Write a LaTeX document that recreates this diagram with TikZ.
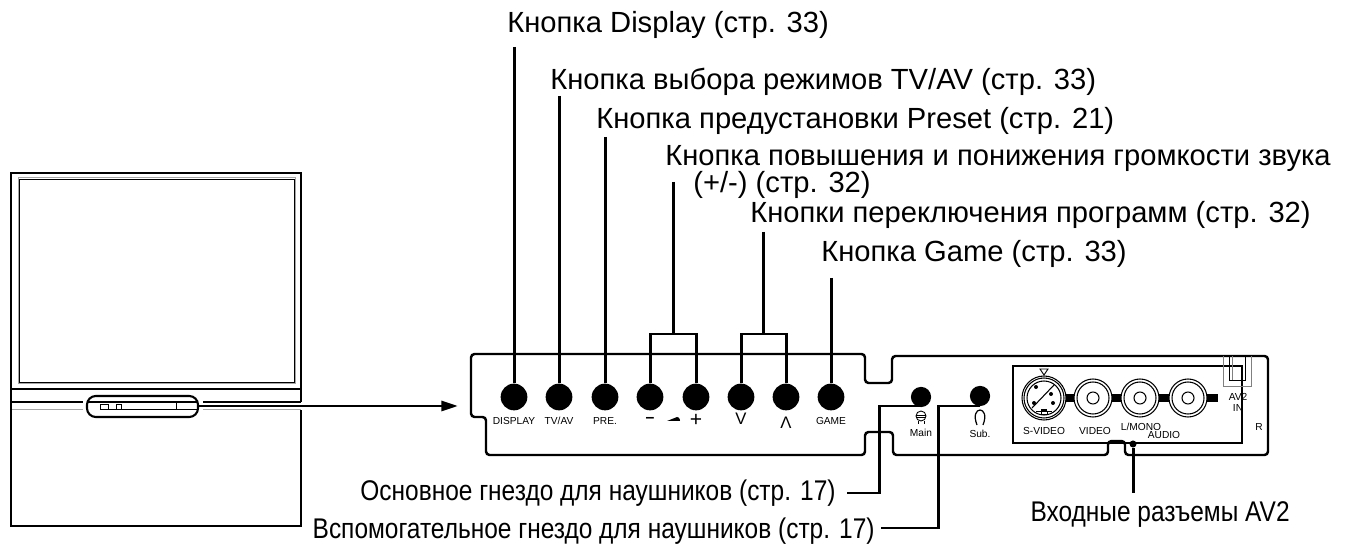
\documentclass[tikz,border=0pt]{standalone}
\usepackage{fontspec}
\setmainfont{Liberation Sans}
\newfontfamily\narrowfont[FakeStretch=0.86]{Liberation Sans}
\usetikzlibrary{arrows.meta}
\tikzset{
  leader/.style={line width=1.7pt},
  outline/.style={line width=1.4pt,rounded corners=2pt},
  caption/.style={anchor=base west,inner sep=0pt,font=\fontsize{16.6}{18}\selectfont},
  narrowcaption/.style={anchor=base east,inner sep=0pt,font=\fontsize{16.2}{18}\selectfont\narrowfont},
  panellabel/.style={inner sep=0pt,font=\fontsize{5.8}{6}\selectfont},
  button/.style={circle,fill=black,inner sep=0pt,minimum size=15.2pt},
  jack/.style={circle,fill=black,inner sep=0pt,minimum size=11.5pt},
}
\begin{document}
\begin{tikzpicture}[x=0.02cm,y=-0.02cm]
  \useasboundingbox (0,0) rectangle (1355,546);

  % television
  \draw[line width=1.5pt] (301,402) -- (301,173) -- (11,173) -- (11,526) -- (301,526) -- (301,410);
  \draw[gray!70,line width=0.5pt] (18,177) rectangle (295,383);
  \draw[line width=0.4pt] (19,179) rectangle (294,382);
  \draw[line width=0.7pt] (12,389) -- (301,389);
  \draw[line width=1.2pt] (12,402) -- (83,402) (203,402) -- (301,402);
  \draw[gray!70,line width=0.5pt] (12,409) -- (83,409) (203,409) -- (301,409);
  \draw[line width=1pt] (87,402) -- (198,402);
  \draw[line width=0.5pt] (100,409) -- (198,409) (176,403) -- (176,409);
  \draw[line width=0.4pt] (100,404) rectangle (108,409) (116,404) rectangle (121,409);
  \draw[line width=1.2pt,rounded corners=5pt] (87,396) rectangle (198,417);
  \coordinate (tvend) at (198,406);
  \coordinate (panelarrow) at (458,406);
  \draw[leader,-{Triangle[length=9.5pt,width=5.7pt]}] (tvend) -- (panelarrow);

  % panel
  \draw[outline] (471,354) -- (865,354) -- (865,383) -- (892,383) -- (892,356) -- (1268,356)
    -- (1268,455) -- (1125,455) -- (1125,441) -- (1108,441) -- (1108,455) -- (893,455)
    -- (893,432) -- (865,432) -- (865,455) -- (486,455) -- (486,417) -- (471,417) -- cycle;
  \draw[line width=0.7pt] (1013,366) rectangle (1242,443);
  \draw[gray,line width=0.5pt] (1223,356) -- (1223,386) -- (1251,386) -- (1251,356);
  \draw[line width=0.5pt] (1229,356) -- (1229,380) -- (1245,380) -- (1245,356);
  \draw[gray,line width=0.5pt] (1232,356) -- (1232,380);

  % buttons
  \foreach \name/\x/\lab in {display/514/DISPLAY,tvav/559/TV\slash AV,pre/605/PRE.,minus/650/,plus/696/,down/741/,up/786/,game/831/GAME}
    {\node[button] (\name) at (\x,397) {};
     \node[panellabel] (\name lab) at (\x,421) {\lab};}
  \node[inner sep=0pt,font=\fontsize{9}{10}\selectfont\bfseries] (minussign) at (650,420) {–};
  \node[inner sep=0pt,font=\fontsize{12}{12}\selectfont] (plussign) at (696,420) {+};
  \node[inner sep=0pt,font=\fontsize{9.5}{10}\selectfont] (downsign) at (741,419) {V};
  \node[inner sep=0pt,font=\fontsize{9.5}{10}\selectfont] (upsign) at (786,423) {Λ};
  \fill (667,421) -- (677,417) .. controls (680,417) and (680,421) .. (680,421) -- cycle;

  % jacks
  \node[jack] (mainjack) at (921,397) {};
  \node[jack] (subjack) at (980,396) {};
  \node[panellabel] (mainlab) at (921,433) {Main};
  \node[panellabel] (sublab) at (980,434) {Sub.};
  \draw[line width=0.5pt] (921,416) circle (5);
  \draw[line width=0.5pt] (916,417) -- (926,417) (916,415) -- (926,415) (918,421) -- (918,424) (924,421) -- (924,424);
  \draw[line width=0.7pt] (977,425) .. controls (969,405) and (991,405) .. (983,425);

  % AV2 sockets
  \foreach \x in {1044,1093,1140,1188}
    \draw[line width=5pt] (\x+18,398) -- (\x+30,398);
  \foreach \x in {1093,1140,1188}
    {\draw[fill=white,line width=0.6pt] (\x,398) circle (19);
     \draw[line width=0.6pt] (\x,398) circle (16);
     \draw[line width=0.6pt] (\x,398) circle (6);}
  \draw[fill=white,line width=0.6pt] (1044,398) circle (22);
  \draw[line width=0.6pt] (1044,398) circle (20) (1044,398) circle (17);
  \draw[line width=0.6pt] (1032,408) -- (1054,385);
  \foreach \x/\y in {1036/387,1051/394,1034/403,1053/403}
    \fill (\x,\y) circle (2);
  \fill (1041,409) rectangle (1047,412);
  \draw[line width=0.5pt] (1036,411) -- (1041,411) -- (1041,414) -- (1047,414) -- (1047,411) -- (1052,411);
  \draw[line width=0.5pt] (1040,369) -- (1048,369) -- (1044,375) -- cycle;
  \node[panellabel] (svideolab) at (1044,431) {S-VIDEO};
  \node[panellabel] (videolab) at (1095,431) {VIDEO};
  \node[panellabel] (lmonolab) at (1141,427) {L/MONO};
  \node[panellabel] (audiolab) at (1164,435) {AUDIO};
  \node[panellabel] (avlab) at (1238,397) {AV2};
  \node[panellabel] (inlab) at (1238,408) {IN};
  \node[panellabel] (rlab) at (1259,427) {R};
  \node[circle,fill=black,inner sep=0pt,minimum size=4pt] (avdot) at (1133,444) {};

  % captions
  \node[caption] (displaytext) at (507,33) {Кнопка Display (стр. 33)};
  \node[caption] (tvavtext) at (550,90) {Кнопка выбора режимов TV/AV (стр. 33)};
  \node[caption] (pretext) at (596,129) {Кнопка предустановки Preset (стр. 21)};
  \node[caption] (voltext) at (665,166) {Кнопка повышения и понижения громкости звука};
  \node[caption] (volpage) at (693,193) {(+/-) (стр. 32)};
  \node[caption] (progtext) at (750,223) {Кнопки переключения программ (стр. 32)};
  \node[caption] (gametext) at (821,262) {Кнопка Game (стр. 33)};
  \node[narrowcaption] (maintext) at (836,501) {Основное гнездо для наушников (стр. 17)};
  \node[narrowcaption] (subtext) at (875,539) {Вспомогательное гнездо для наушников (стр. 17)};
  \node[narrowcaption] (avtext) at (1290,522) {Входные разъемы AV2};

  % leaders
  \coordinate (displaytop) at (514,47);
  \coordinate (tvavtop) at (559,96);
  \coordinate (pretop) at (605,137);
  \coordinate (gametop) at (831,278);
  \draw[leader] (displaytop) -- (display);
  \draw[leader] (tvavtop) -- (tvav);
  \draw[leader] (pretop) -- (pre);
  \draw[leader] (gametop) -- (game);

  \coordinate (voltop) at (673,182);
  \coordinate (volsplit) at (673,334);
  \draw[leader] (voltop) -- (volsplit);
  \draw[leader] (minus) |- (volsplit) -| (plus);

  \coordinate (progtop) at (763,232);
  \coordinate (progsplit) at (763,334);
  \draw[leader] (progtop) -- (progsplit);
  \draw[leader] (down) |- (progsplit) -| (up);

  \coordinate (mainend) at (847,493);
  \coordinate (subend) at (881,528);
  \coordinate (mainjackin) at (921,406);
  \coordinate (subjackin) at (980,406);
  \draw[leader] (mainend) -| (879,406) -- (mainjackin);
  \draw[leader] (subend) -| (938,406) -- (subjackin);
  \coordinate (avend) at (1133,493);
  \draw[leader] (avdot) -- (avend);
\end{tikzpicture}
\end{document}
